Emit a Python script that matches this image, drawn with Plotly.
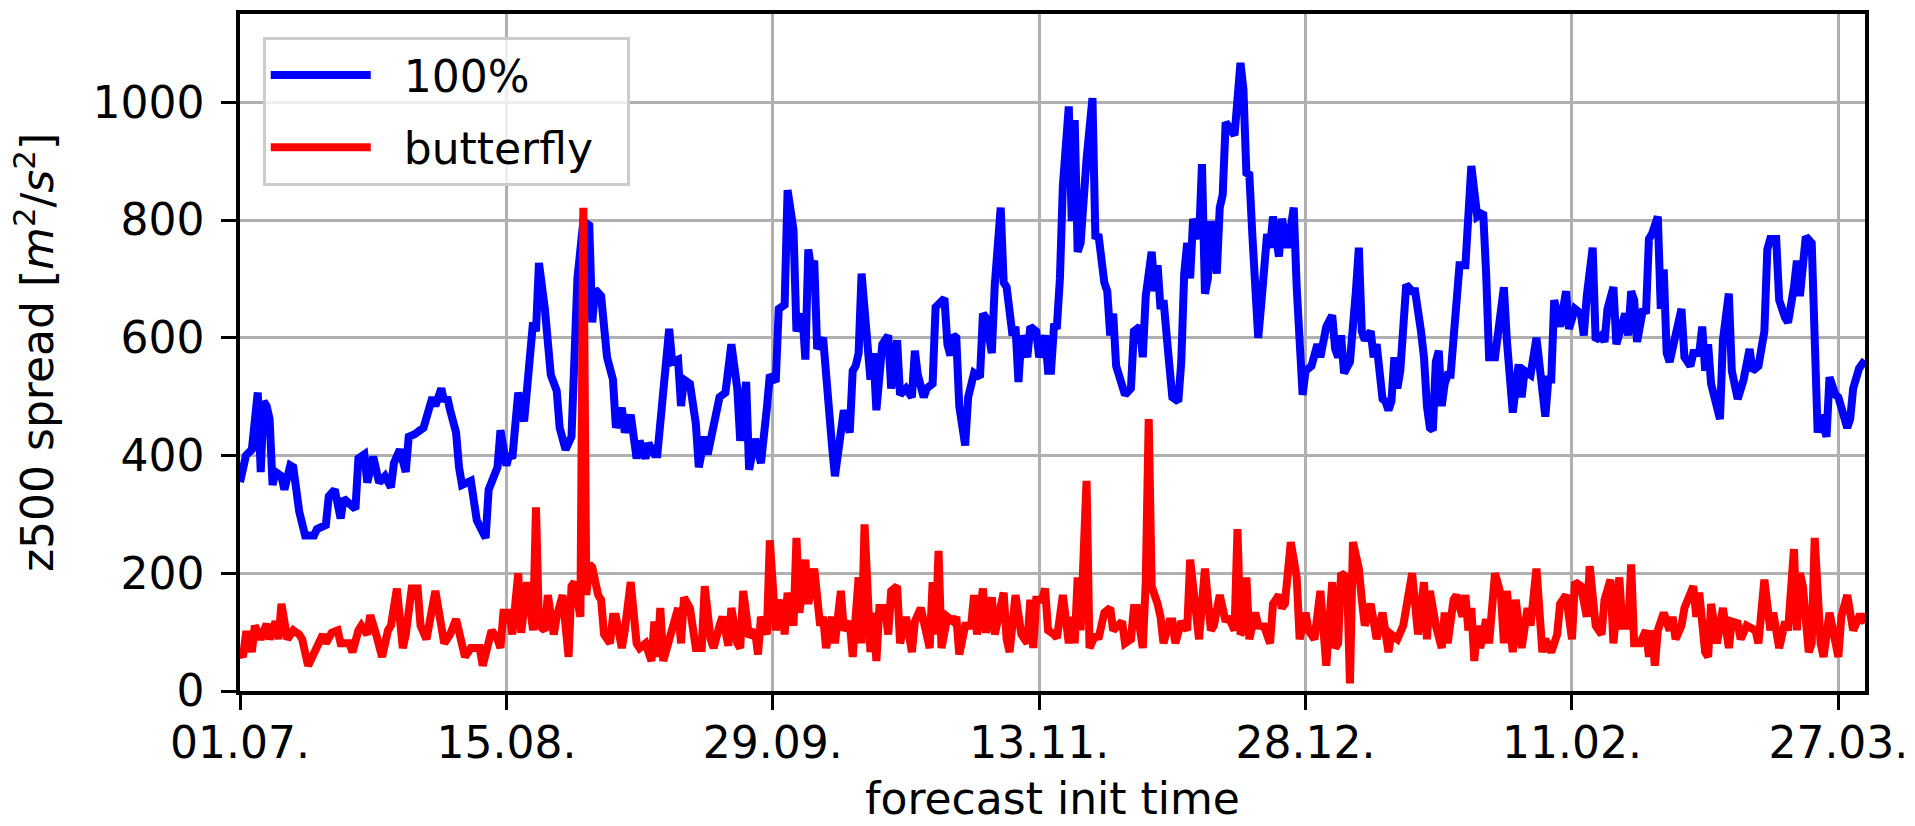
import pandas as pd
import plotly.graph_objects as go

start = pd.Timestamp("2019-07-01")
end_offset_days = 274.5

tick_dates = ["2019-07-01", "2019-08-15", "2019-09-29", "2019-11-13", "2019-12-28", "2020-02-11", "2020-03-27"]
tick_labels = ["01.07.", "15.08.", "29.09.", "13.11.", "28.12.", "11.02.", "27.03."]
y_ticks = [0, 200, 400, 600, 800, 1000]

# "100%" ensemble spread (day offset from 01.07., value in m^2/s^2)
blue_days = [0, 1, 2, 3, 3.5, 4, 4.5, 5, 5.5, 6, 7, 7.5, 8.5, 9, 10, 10.5, 11, 12.5, 13, 14.5,
             15, 16, 17, 17.5, 19.5, 20, 21, 21.5, 22.5, 23.5, 24.5, 25.5, 26, 27, 28, 28.5, 29.5, 31, 32.5, 33,
             34, 34.5, 35, 35.5, 36.5, 37, 37.5, 39, 40, 41.5, 42, 43.5, 44, 45, 45.5, 46, 47, 48, 48.5, 49.5,
             50, 50.5, 51.5, 52.5, 53.5, 54, 55, 56, 56.5, 57, 58, 59, 59.5, 60, 61, 62, 63, 63.5, 64.5, 65,
             66, 67, 67.5, 68.5, 69, 70, 70.5, 71.5, 72.5, 73, 74, 74.5, 75, 76, 77, 77.5, 78.5, 79, 80, 81,
             82, 83, 84, 84.5, 85.5, 86, 87, 88, 89, 89.5, 90.5, 91, 92, 92.5, 93.5, 94, 95, 95.5, 96, 96.5,
             97, 97.5, 98.5, 99, 100, 100.5, 101, 102, 103, 103.5, 104, 104.5, 105, 105.5, 106.5, 107, 107.5, 108.5, 109.5, 110,
             111, 111.5, 112.5, 113.5, 114, 114.5, 115.5, 116, 117, 117.5, 118, 119, 119.5, 120, 120.5, 121, 121.5, 122.5, 123, 124,
             125, 125.5, 126, 127, 127.5, 128.5, 129, 129.5, 130.5, 131, 131.5, 132, 133, 133.5, 134.5, 135, 136, 136.5, 137, 137.5,
             138, 138.5, 139, 140, 140.5, 141, 141.5, 142, 143, 144, 144.5, 145, 146, 146.5, 147, 147.5, 148, 149, 149.5, 150.5,
             151, 152, 152.5, 153, 154, 154.5, 155, 155.5, 156, 157, 157.5, 158.5, 159, 159.5, 160, 160.5, 161, 162, 162.5, 163,
             163.5, 164, 165, 165.5, 166, 166.5, 167.5, 168, 169, 169.5, 170, 170.5, 171, 172, 172.5, 173.5, 174, 174.5, 175.5, 176,
             177, 178, 178.5, 179, 179.5, 180, 181, 182, 182.5, 183.5, 184.5, 185, 185.5, 186, 186.5, 187.5, 188, 188.5, 189, 189.5,
             190, 191, 191.5, 192, 193, 193.5, 194, 194.5, 195, 195.5, 196, 197, 198, 198.5, 199.5, 200, 200.5, 201, 201.5, 202,
             202.5, 203, 203.5, 204, 204.5, 205, 206, 207, 207.5, 208, 209, 210, 210.5, 211, 212, 212.5, 213.5, 214, 215, 216,
             216.5, 217, 218, 219, 220, 220.5, 221, 221.5, 222, 223, 224, 224.5, 225.5, 226.5, 227, 227.5, 228.5, 229, 230, 230.5,
             231, 232, 232.5, 233.5, 234, 234.5, 235, 235.5, 236, 237, 237.5, 238, 238.5, 239.5, 240, 240.5, 241, 241.5, 242, 243.5,
             244, 245, 245.5, 246.5, 247, 247.5, 248, 248.5, 250, 250.5, 251.5, 252, 253, 254, 255, 255.5, 256.5, 257.5, 258, 258.5,
             259.5, 260, 261, 261.5, 262.5, 263, 263.5, 264.5, 265.5, 266, 266.5, 267, 268, 268.5, 269.5, 270, 271.5, 272, 272.5, 273.5,
             274, 274.5]
blue_vals = [355, 400, 410, 507, 372, 492, 484, 462, 350, 372, 365, 342, 383, 380, 305, 275, 264, 264, 275, 282,
             331, 342, 293, 327, 309, 395, 402, 354, 398, 354, 365, 346, 387, 410, 372, 432, 436, 447, 499, 484,
             514, 492, 499, 477, 439, 380, 350, 357, 290, 260, 342, 380, 443, 383, 402, 395, 507, 458, 522, 626,
             611, 727, 649, 537, 510, 447, 410, 432, 567, 701, 798, 791, 626, 682, 671, 567, 529, 447, 481, 439,
             469, 395, 425, 395, 421, 402, 402, 507, 615, 559, 563, 484, 529, 522, 454, 380, 432, 402, 454, 499,
             507, 589, 514, 425, 525, 376, 428, 387, 481, 537, 525, 649, 656, 851, 783, 611, 641, 563, 750, 716,
             731, 581, 600, 522, 417, 365, 402, 477, 439, 544, 552, 574, 709, 634, 529, 574, 477, 589, 604, 514,
             596, 503, 514, 499, 578, 537, 499, 514, 522, 652, 656, 667, 589, 570, 604, 600, 484, 417, 499, 540,
             533, 641, 634, 574, 690, 821, 694, 686, 604, 619, 525, 604, 567, 619, 611, 567, 604, 544, 544, 619,
             620, 700, 858, 993, 798, 970, 746, 761, 903, 1007, 768, 776, 694, 679, 604, 641, 552, 514, 503, 514,
             611, 619, 567, 671, 746, 679, 723, 649, 664, 552, 499, 492, 559, 709, 761, 701, 802, 768, 895, 675,
             701, 798, 709, 821, 843, 966, 948, 944, 1067, 1022, 880, 877, 776, 600, 656, 776, 753, 806, 738, 802,
             753, 821, 686, 559, 503, 544, 552, 589, 567, 619, 638, 581, 567, 604, 540, 559, 649, 679, 753, 611,
             596, 611, 567, 589, 496, 492, 477, 492, 567, 514, 544, 690, 679, 679, 611, 567, 484, 447, 443, 559,
             578, 484, 522, 537, 537, 589, 723, 723, 813, 892, 806, 813, 709, 567, 567, 604, 686, 596, 473, 555,
             499, 544, 537, 600, 499, 466, 529, 529, 664, 619, 679, 615, 649, 641, 604, 671, 753, 596, 604, 593,
             649, 686, 589, 634, 641, 604, 679, 664, 593, 649, 641, 768, 776, 806, 649, 716, 574, 559, 581, 649,
             567, 552, 574, 574, 619, 544, 589, 522, 462, 596, 675, 544, 496, 529, 581, 544, 552, 611, 750, 768,
             768, 664, 634, 626, 686, 731, 671, 772, 761, 600, 439, 469, 432, 533, 503, 499, 447, 462, 514, 548,
             559, 562]

# "butterfly" ensemble spread
red_days = [0, 0.5, 1, 1.5, 2, 2.5, 3.5, 4.5, 5, 6, 6.5, 7, 8, 9, 10, 10.5, 11.5, 12.5, 13, 14,
            14.5, 15.5, 16.5, 17, 18.5, 19, 20, 20.5, 21.5, 22, 23, 24, 25, 25.5, 26.5, 27.5, 28, 29, 30, 30.5,
            31.5, 32, 33, 34.5, 35.5, 36.5, 37, 38, 39, 40.5, 41, 41.5, 42.5, 43.5, 44, 44.5, 45.5, 46, 47, 47.5,
            48.5, 49.5, 50, 50.5, 51.5, 52, 53, 53.5, 54.5, 55.5, 56, 56.5, 57.5, 58, 58.5, 59, 59.5, 60.5, 61, 61.5,
            62.5, 63, 63.5, 64.5, 65, 66, 67, 67.5, 68.5, 69.5, 70, 70.5, 71, 71.5, 72.5, 73, 74, 74.5, 75, 76,
            76.5, 77, 78, 78.5, 79.5, 80, 81, 81.5, 82.5, 83, 84, 84.5, 85, 86, 87, 87.5, 88, 89, 89.5, 90.5,
            91.5, 92, 92.5, 93.5, 94, 94.5, 95.5, 96, 97, 98, 98.5, 99, 100, 100.5, 101.5, 102, 103, 103.5, 104, 104.5,
            105, 105.5, 106.5, 107, 107.5, 108, 109, 109.5, 110, 111, 111.5, 112.5, 113.5, 114, 115, 116, 116.5, 117, 117.5, 118,
            118.5, 119.5, 120.5, 121, 121.5, 122.5, 123.5, 124, 124.5, 125.5, 126, 127, 127.5, 129, 129.5, 130, 131, 132, 133, 133.5,
            134, 134.5, 135.5, 136, 136.5, 137.5, 138, 139, 140, 140.5, 141, 141.5, 142, 143, 143.5, 144.5, 145, 146, 147, 147.5,
            149, 149.5, 150.5, 151, 151.5, 152.5, 153, 153.5, 154, 155, 155.5, 156, 157, 157.5, 158, 159, 160, 160.5, 161.5, 162,
            163, 164, 164.5, 165.5, 166.5, 167, 168, 168.5, 169, 169.5, 170, 170.5, 171.5, 172, 173, 174, 174.5, 175.5, 176, 176.5,
            177.5, 178.5, 179, 180, 180.5, 181.5, 182.5, 183, 183.5, 184.5, 185, 185.5, 186, 187, 187.5, 188, 189, 189.5, 190, 191,
            192, 193, 194, 194.5, 195.5, 196.5, 197.5, 198, 199, 200, 200.5, 201, 202, 203, 203.5, 204, 205, 205.5, 206.5, 207,
            207.5, 208, 208.5, 209, 209.5, 210.5, 211, 212, 213, 213.5, 214, 215, 215.5, 216.5, 217.5, 218, 219, 220, 220.5, 221.5,
            222.5, 223, 224, 225, 225.5, 226.5, 227.5, 228, 229, 230, 230.5, 231.5, 232, 233, 233.5, 234.5, 235, 235.5, 236.5, 237.5,
            238, 238.5, 239, 239.5, 240.5, 241.5, 242, 242.5, 243.5, 244, 245.5, 246, 246.5, 247.5, 248, 248.5, 249.5, 250.5, 251.5, 252,
            253, 253.5, 254.5, 256, 256.5, 257.5, 258.5, 259, 260, 261, 261.5, 262.5, 263, 263.5, 264, 265, 265.5, 266, 267, 267.5,
            268.5, 269.5, 270, 270.5, 271.5, 272.5, 273.5, 274, 274.5]
red_vals = [65, 58, 96, 96, 66, 111, 88, 114, 88, 118, 88, 148, 88, 103, 96, 88, 43, 66, 73, 96,
            81, 99, 103, 81, 81, 66, 103, 111, 96, 129, 96, 58, 103, 111, 174, 73, 96, 174, 174, 111,
            88, 111, 170, 81, 96, 122, 96, 58, 73, 73, 43, 66, 103, 88, 73, 133, 133, 96, 200, 99,
            185, 103, 312, 111, 103, 163, 96, 126, 163, 58, 178, 185, 126, 821, 163, 215, 210, 163, 155, 96,
            81, 126, 126, 73, 103, 185, 81, 73, 81, 51, 118, 58, 141, 51, 88, 111, 141, 81, 159, 141,
            103, 73, 73, 178, 88, 73, 111, 126, 77, 141, 81, 73, 170, 92, 103, 62, 126, 96, 256, 103,
            155, 96, 167, 111, 260, 133, 223, 148, 208, 111, 126, 73, 126, 81, 170, 103, 118, 58, 126, 193,
            81, 283, 66, 133, 51, 141, 141, 96, 170, 178, 81, 126, 66, 118, 141, 103, 73, 185, 96, 238,
            73, 126, 118, 126, 62, 111, 111, 163, 96, 174, 99, 159, 96, 167, 88, 66, 163, 96, 81, 155,
            73, 155, 155, 174, 103, 96, 90, 163, 81, 126, 81, 193, 103, 357, 73, 96, 88, 133, 141, 103,
            118, 81, 88, 141, 141, 73, 185, 462, 178, 148, 126, 81, 118, 118, 81, 118, 103, 223, 111, 88,
            208, 103, 111, 163, 118, 126, 103, 275, 96, 103, 193, 88, 133, 111, 110, 81, 148, 163, 141, 148,
            253, 193, 88, 133, 103, 88, 170, 88, 43, 185, 73, 81, 200, 193, 13, 253, 208, 155, 111, 148,
            88, 133, 66, 96, 88, 111, 185, 200, 96, 185, 88, 170, 111, 73, 133, 81, 155, 163, 126, 163,
            103, 141, 51, 111, 73, 122, 81, 200, 163, 81, 170, 66, 155, 73, 141, 111, 208, 66, 88, 66,
            96, 148, 163, 88, 185, 178, 126, 212, 111, 96, 155, 189, 81, 193, 111, 111, 215, 81, 81, 103,
            58, 103, 43, 103, 133, 103, 126, 88, 111, 141, 178, 126, 167, 66, 58, 148, 81, 141, 73, 118,
            115, 88, 111, 103, 81, 189, 103, 133, 73, 118, 103, 241, 103, 200, 178, 66, 81, 260, 81, 58,
            133, 88, 58, 126, 163, 103, 126, 126, 115]

series_names = ["100%", "butterfly"]
x_title = "forecast init time"
y_title = "z500 spread [<i>m</i><sup>2</sup>/<i>s</i><sup>2</sup>]"

FONT = "DejaVu Sans"
FS = 44
PAD = "\u00a0\u00a0"
TRAIL = "\u00a0\u00a0"


def to_dates(days):
    return [start + pd.Timedelta(hours=24 * d) for d in days]


fig = go.Figure()
fig.add_trace(go.Scatter(x=to_dates(blue_days), y=blue_vals, mode="lines", name=PAD + series_names[0] + TRAIL,
                         legendgroup="a", line=dict(color="#0000ff", width=8)))
fig.add_trace(go.Scatter(x=to_dates(red_days), y=red_vals, mode="lines", name=PAD + series_names[1] + TRAIL,
                         legendgroup="b", line=dict(color="#ff0000", width=8)))

axis_common = dict(
    showline=True, linecolor="black", linewidth=3.5, mirror=True,
    ticks="outside", ticklen=15, tickwidth=3, tickcolor="black",
    showgrid=True, gridcolor="#b0b0b0", gridwidth=2.5,
    tickfont=dict(family=FONT, size=FS, color="black"),
    zeroline=False,
)

fig.update_layout(
    width=1915, height=826,
    margin=dict(l=240, r=50, t=14, b=135),
    paper_bgcolor="white", plot_bgcolor="white",
    font=dict(family=FONT, size=FS, color="black"),
    xaxis=dict(
        type="date",
        range=[start, start + pd.Timedelta(hours=24 * end_offset_days)],
        tickvals=[pd.Timestamp(d) for d in tick_dates],
        ticktext=tick_labels,
        ticklabelstandoff=-5,
        automargin=False,
        **axis_common,
    ),
    yaxis=dict(
        range=[0, 1150],
        tickvals=y_ticks,
        title=dict(text=y_title, font=dict(family=FONT, size=FS), standoff=26),
        ticklabelstandoff=8,
        automargin=False,
        **axis_common,
    ),
    legend=dict(
        x=0.014, y=0.966, xanchor="left", yanchor="top",
        bgcolor="rgba(255,255,255,0.8)", bordercolor="#cccccc", borderwidth=3,
        font=dict(family=FONT, size=FS, color="black"),
        itemwidth=100, traceorder="grouped", tracegroupgap=12,
    ),
    annotations=[dict(
        text=x_title, xref="paper", yref="paper", x=0.5, y=-0.1595,
        xanchor="center", yanchor="middle", showarrow=False, borderpad=0,
        font=dict(family=FONT, size=FS, color="black"),
    )],
    showlegend=True,
)

fig.write_html("out.html")
